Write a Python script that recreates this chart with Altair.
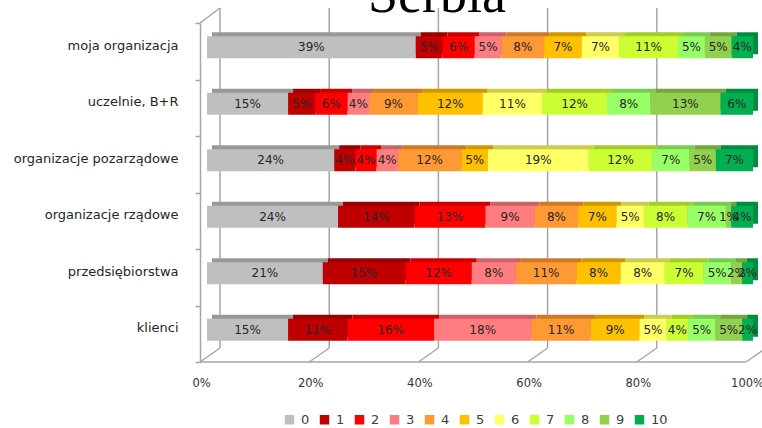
import altair as alt
import pandas as pd

# Response categories, top to bottom
categories = [
    "moja organizacja",
    "uczelnie, B+R",
    "organizacje pozarządowe",
    "organizacje rządowe",
    "przedsiębiorstwa",
    "klienci",
]

# Scores 0..10 and their colours
scores = ["0", "1", "2", "3", "4", "5", "6", "7", "8", "9", "10"]
colors = ["#BFBFBF", "#C00000", "#FF0000", "#FF7C80", "#FF9933", "#FFC000",
          "#FFFF66", "#CCFF33", "#99FF66", "#92D050", "#00B050"]

# Share of answers (%) per score, one list per category
moja_organizacja = [39, 5, 6, 5, 8, 7, 7, 11, 5, 5, 4]
uczelnie = [15, 5, 6, 4, 9, 12, 11, 12, 8, 13, 6]
organizacje_pozarzadowe = [24, 4, 4, 4, 12, 5, 19, 12, 7, 5, 7]
organizacje_rzadowe = [24, 14, 13, 9, 8, 7, 5, 8, 7, 1, 4]
przedsiebiorstwa = [21, 15, 12, 8, 11, 8, 8, 7, 5, 2, 2]
klienci = [15, 11, 16, 18, 11, 9, 5, 4, 5, 5, 2]

series = [moja_organizacja, uczelnie, organizacje_pozarzadowe,
          organizacje_rzadowe, przedsiebiorstwa, klienci]

axis_ticks = [0, 0.2, 0.4, 0.6, 0.8, 1.0]


def darken(hex_color, f=0.8):
    r, g, b = (int(hex_color[i:i + 2], 16) for i in (1, 3, 5))
    return "#{:02X}{:02X}{:02X}".format(int(r * f), int(g * f), int(b * f))


# Build stacked (normalised) segments
records = []
for cat, vals in zip(categories, series):
    total = sum(vals)
    acc = 0
    for s, v, c in zip(scores, vals, colors):
        records.append({
            "cat": cat, "score": s, "value": v,
            "start": acc / total, "end": (acc + v) / total,
            "mid": (acc + v / 2) / total,
            "label": f"{v}%", "top": darken(c),
        })
        acc += v
df = pd.DataFrame(records)
ticks_df = pd.DataFrame({"t": axis_ticks})

W, H = 546, 339
GRID = "#A6A6A6"
FONT = "DejaVu Sans"

xscale = alt.Scale(domain=[0, 1], nice=False, zero=False)
xaxis = alt.Axis(title=None, values=axis_ticks, format="%", domain=False,
                 ticks=False, grid=False, labelFlush=False,
                 labelOffset=-6, labelPadding=15, labelFont=FONT,
                 labelFontSize=11.5, labelColor="#333333")
yenc = alt.Y(
    "cat:N", sort=categories,
    scale=alt.Scale(paddingInner=0, paddingOuter=0),
    axis=alt.Axis(title=None, offset=7, domainColor=GRID, domainWidth=1.5,
                  tickColor=GRID, tickWidth=1.5, tickSize=5, tickBand="extent",
                  labelPadding=17, labelFont=FONT, labelFontSize=13,
                  labelColor="#262626", labelOffset=-6, labelLimit=300),
)


def xq(field):
    return alt.X(field, scale=xscale, axis=xaxis)


# Back-wall gridlines
grid = alt.Chart(ticks_df).mark_rule(color=GRID, strokeWidth=1.5, xOffset=13).encode(
    x=xq("t:Q"), y=alt.value(-15), y2=alt.value(325),
)

# Floor diagonals from back wall to front edge
floor_diag = alt.Chart(ticks_df).mark_rule(
    color=GRID, strokeWidth=1.5, xOffset=13, x2Offset=-7
).encode(
    x=xq("t:Q"), x2="t:Q", y=alt.value(325), y2=alt.value(339),
)

# Front floor edge
floor_front = alt.Chart(pd.DataFrame({"a": [0], "b": [1]})).mark_rule(
    color=GRID, strokeWidth=1.5, xOffset=-7, x2Offset=-7
).encode(
    x=xq("a:Q"), x2="b:Q", y=alt.value(339),
)

# Top edge of the left wall
wall_top = alt.Chart(pd.DataFrame({"a": [0]})).mark_rule(
    color=GRID, strokeWidth=1.5, xOffset=-7, x2Offset=13
).encode(
    x=xq("a:Q"), x2="a:Q", y=alt.value(0), y2=alt.value(-15),
)

# Darker copy behind the bars: top and side faces of the 3D bars
depth = alt.Chart(df).mark_bar(size=22, yOffset=-8, xOffset=5, x2Offset=5).encode(
    x=xq("start:Q"), x2="end:Q",
    y=yenc,
    color=alt.Color("top:N", scale=None, legend=None),
)

bars = alt.Chart(df).mark_bar(size=22, yOffset=-4).encode(
    x=xq("start:Q"), x2="end:Q",
    y=yenc,
    color=alt.Color(
        "score:N",
        scale=alt.Scale(domain=scores, range=colors),
        legend=alt.Legend(
            orient="none", legendX=76, legendY=390, direction="horizontal",
            columns=11, gridAlign="all", columnPadding=0, padding=0,
            symbolType="square", symbolSize=90, symbolStrokeWidth=0,
            labelOffset=5, labelFont=FONT, labelFontSize=13,
            labelColor="#404040", title=None,
        ),
    ),
)

labels = alt.Chart(df).mark_text(font=FONT, fontSize=12, color="#262626", yOffset=-4).encode(
    x=xq("mid:Q"), y=yenc, text="label:N",
)

title = alt.Chart(pd.DataFrame({"t": ["Serbia"]})).mark_text(
    font="Liberation Serif", fontSize=54, baseline="alphabetic", align="center",
    color="#000000",
).encode(text="t:N", x=alt.value(230), y=alt.value(-11))

chart = alt.layer(
    grid, floor_diag, floor_front, wall_top, depth, bars, labels, title
).resolve_scale(color="independent").properties(
    width=W, height=H,
    autosize=alt.AutoSizeParams(type="none"),
    padding={"left": 207, "top": 23, "right": 762 - 207 - W, "bottom": 428 - 23 - H},
    background="white",
).configure_view(stroke=None)

chart.save("out.html", embed_options={"renderer": "svg", "actions": False})
